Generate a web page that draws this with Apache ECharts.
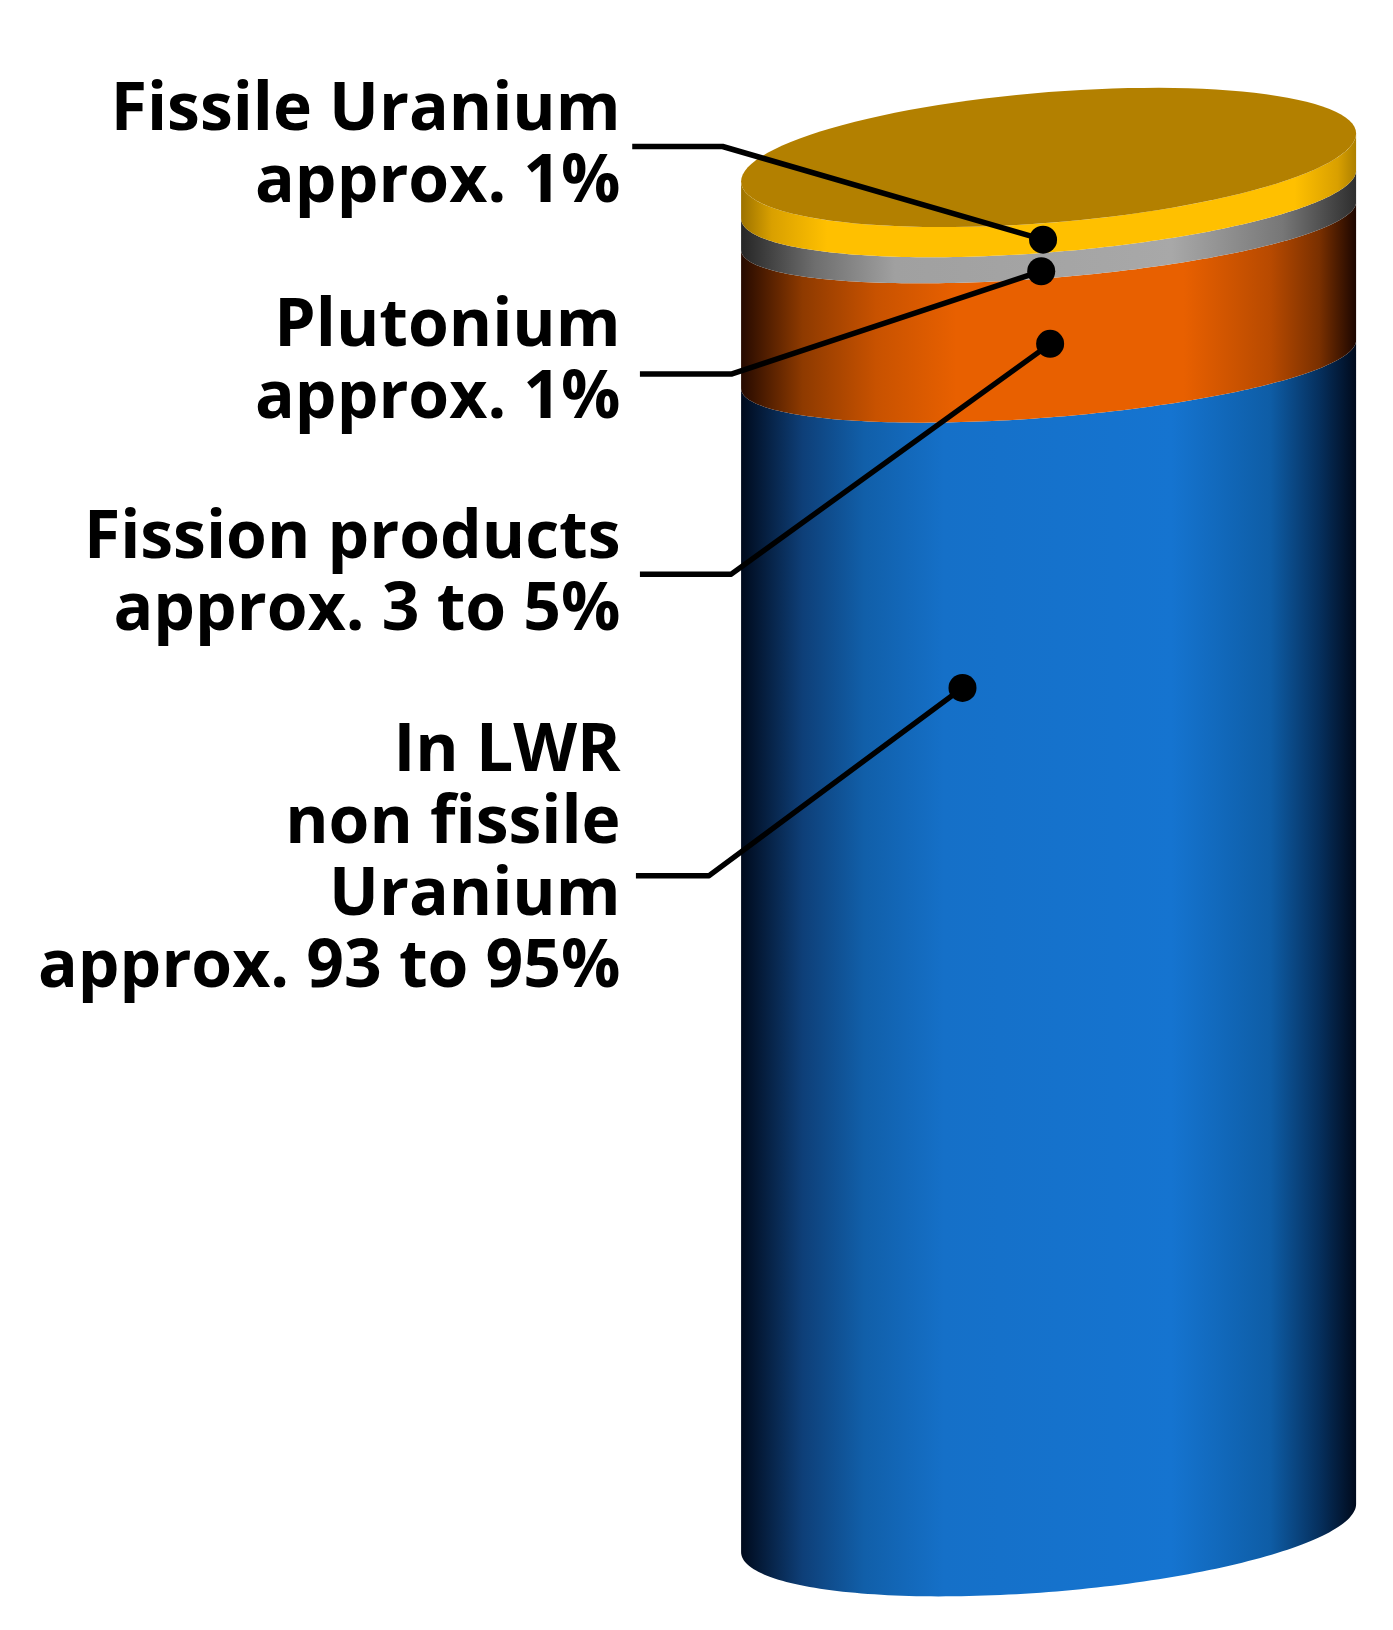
<!DOCTYPE html>
<html>
<head>
<meta charset="utf-8">
<style>
  html, body { margin: 0; padding: 0; background: #fff; }
  #chart { width: 1393px; height: 1630px; }
</style>
</head>
<body>
<div id="chart"></div>
<script src="https://cdn.jsdelivr.net/npm/echarts@6/dist/echarts.min.js"></script>
<script>
// bands from the bottom of the rod to the top, height as drawn in the picture (% of rod)
const bandNames = ['In LWR non fissile Uranium', 'Fission products', 'Plutonium', 'Fissile Uranium']
const bandHeights = [84.9, 10.1, 2.3, 2.7]

const labelTexts = [
  'Fissile Uranium\napprox. 1%',
  'Plutonium\napprox. 1%',
  'Fission products\napprox. 3 to 5%',
  'In LWR\nnon fissile\nUranium\napprox. 93 to 95%'
]
const labelLevels = [100.75, 85.0, 69.5, 48.75]

// leader lines: label end, knee, dot
const leaderX = [
  [-1.354, -1.060, -0.018],
  [-1.329, -1.032, -0.024],
  [-1.329, -1.032, 0.005],
  [-1.342, -1.104, -0.280]
]
const leaderY = [
  [100.8, 100.8, 94.0],
  [84.2, 84.2, 91.7],
  [69.6, 69.6, 86.4],
  [47.6, 47.6, 61.3]
]

// curvature of the rims in y axis units, bottom rim first
const rimDepth = [4.67, 3.87, 3.8, 4.23, 4.77]
const rimTilt = 1.75
const labelRight = -1.392

function shade(stops) {
  return new echarts.graphic.LinearGradient(0, 0, 1, 0, stops.map(s => ({ offset: s[0], color: s[1] })))
}

const bandFills = [
  shade([[0, '#000a1c'], [0.1, '#0e3f78'], [0.2, '#115fa9'], [0.33, '#1570c8'], [0.7, '#1574d0'], [0.86, '#0e5da6'], [0.94, '#06305e'], [1, '#000a1c']]),
  shade([[0, '#260a00'], [0.1, '#8e3a00'], [0.22, '#c85200'], [0.35, '#e86000'], [0.72, '#e86000'], [0.86, '#b84a00'], [0.94, '#7a3000'], [1, '#1c0600']]),
  shade([[0, '#262626'], [0.12, '#6e6e6e'], [0.25, '#a0a0a0'], [0.7, '#a8a8a8'], [0.88, '#777777'], [1, '#2e2e2e']]),
  shade([[0, '#9c7200'], [0.05, '#d9a000'], [0.14, '#ffc000'], [0.9, '#ffc000'], [0.97, '#d9a000'], [1, '#ad8000']])
]
const capColor = '#b38000'

// one rim point, t runs 0..PI over the front of the rod and on to 2*PI over the back
function rimPoint(api, level, depth, t) {
  return api.coord([Math.cos(t), level + rimTilt * Math.cos(t) - depth * Math.sin(t)])
}

function rimPoints(api, level, depth, from, to) {
  const points = []
  const steps = 120
  for (let i = 0; i <= steps; ++i) {
    points.push(rimPoint(api, level, depth, from + (to - from) * i / steps))
  }
  return points
}

function renderBand(params, api) {
  const i = params.dataIndex
  const lower = api.value(0)
  const upper = api.value(1)
  const points = rimPoints(api, upper, rimDepth[i + 1], 0, Math.PI)
    .concat(rimPoints(api, lower, rimDepth[i], Math.PI, 0))
  return { type: 'polygon', shape: { points: points }, style: { fill: bandFills[i] } }
}

function renderCap(params, api) {
  const points = rimPoints(api, api.value(0), rimDepth[rimDepth.length - 1], 0, Math.PI * 2)
  return { type: 'polygon', shape: { points: points }, style: { fill: capColor } }
}

function renderLabel(params, api) {
  const p = api.coord([labelRight, api.value(0)])
  return {
    type: 'text',
    style: {
      x: p[0],
      y: p[1],
      text: labelTexts[params.dataIndex],
      textAlign: 'right',
      textVerticalAlign: 'middle',
      fill: '#000',
      fontFamily: '"Open Sans"',
      fontWeight: 'bold',
      fontSize: 66,
      lineHeight: 72
    }
  }
}

const bandData = []
let level = 0
for (let i = 0; i < bandHeights.length; ++i) {
  bandData.push({ name: bandNames[i], value: [level, level + bandHeights[i]] })
  level += bandHeights[i]
}

const chart = echarts.init(document.getElementById('chart'))
chart.setOption({
  animation: false,
  backgroundColor: '#fff',
  grid: { left: 0, right: 0, top: 0, bottom: 0 },
  xAxis: { type: 'value', min: -3.41, max: 1.12, show: false },
  yAxis: { type: 'value', min: -7.44, max: 111.49, show: false },
  series: [
    {
      type: 'custom',
      coordinateSystem: 'cartesian2d',
      renderItem: renderBand,
      encode: { x: -1, y: -1 },
      data: bandData,
      z: 1
    },
    {
      type: 'custom',
      coordinateSystem: 'cartesian2d',
      renderItem: renderCap,
      encode: { x: -1, y: -1 },
      data: [[level]],
      z: 2
    },
    {
      type: 'custom',
      coordinateSystem: 'cartesian2d',
      renderItem: renderLabel,
      encode: { x: -1, y: -1 },
      data: labelLevels.map(v => [v]),
      z: 5
    }
  ].concat(leaderX.map((xs, k) => ({
    type: 'line',
    data: xs.map((x, j) => [x, leaderY[k][j]]),
    symbol: 'circle',
    symbolSize: (value, params) => params.dataIndex === 2 ? 28 : 0,
    lineStyle: { color: '#000', width: 5.5, join: 'round' },
    itemStyle: { color: '#000' },
    z: 4
  })))
})
</script>
</body>
</html>
